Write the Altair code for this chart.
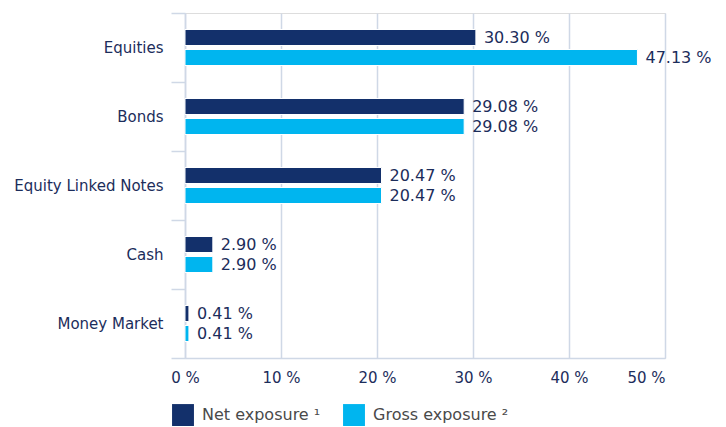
import altair as alt
import pandas as pd

categories = ["Equities", "Bonds", "Equity Linked Notes", "Cash", "Money Market"]
series = ["Net exposure ¹", "Gross exposure ²"]
net_values = [30.30, 29.08, 20.47, 2.90, 0.41]
gross_values = [47.13, 29.08, 20.47, 2.90, 0.41]
x_ticks = [0, 10, 20, 30, 40, 50]

rows = []
for c, n, g in zip(categories, net_values, gross_values):
    rows.append({"category": c, "series": series[0], "value": n})
    rows.append({"category": c, "series": series[1], "value": g})
df = pd.DataFrame(rows)

navy = "#13306b"
cyan = "#00b5ef"
text_col = "#1c2d5b"
grid_col = "#cfd8e6"
FONT = "DejaVu Sans"

y_enc = alt.Y(
    "category:N",
    sort=categories,
    scale=alt.Scale(paddingInner=0, paddingOuter=0),
    axis=alt.Axis(
        title=None,
        tickBand="extent",
        tickSize=14,
        tickColor=grid_col,
        tickWidth=1.5,
        domainColor=grid_col,
        domainWidth=1.5,
        labelPadding=8,
        labelFontSize=15,
        labelFont=FONT,
        labelColor=text_col,
        grid=False,
    ),
)
yoff_enc = alt.YOffset(
    "series:N",
    sort=series,
    scale=alt.Scale(paddingInner=0.2, paddingOuter=0.825),
)
x_enc = alt.X(
    "value:Q",
    scale=alt.Scale(domain=[0, 50], nice=False),
    axis=alt.Axis(
        title=None,
        values=x_ticks,
        labelExpr="datum.value + ' %'",
        labelAlign=alt.expr("datum.value == 50 ? 'right' : 'center'"),
        labelFlush=False,
        labelPadding=12,
        labelFontSize=15,
        labelFont=FONT,
        labelColor=text_col,
        ticks=False,
        grid=True,
        gridColor=grid_col,
        gridWidth=1.5,
        domainColor=grid_col,
        domainWidth=1.5,
    ),
)

bars = alt.Chart(df).mark_bar(stroke="white", strokeWidth=1).encode(
    x=x_enc,
    y=y_enc,
    yOffset=yoff_enc,
    color=alt.Color(
        "series:N",
        sort=series,
        scale=alt.Scale(domain=series, range=[navy, cyan]),
        legend=alt.Legend(
            title=None,
            orient="none",
            direction="horizontal",
            legendX=-13,
            legendY=391,
            symbolType="square",
            symbolSize=480,
            symbolStrokeWidth=0,
            labelFontSize=16,
            labelFont=FONT,
            labelColor="#4a4a4a",
            labelOffset=8,
            columnPadding=22,
        ),
    ),
)

labels = alt.Chart(df).transform_calculate(
    label="format(datum.value, '.2f') + ' %'"
).mark_text(align="left", baseline="middle", dx=8, fontSize=16, font=FONT, color=text_col).encode(
    x="value:Q",
    y=alt.Y("category:N", sort=categories),
    yOffset=alt.YOffset("series:N", sort=series),
    text="label:N",
)

chart = (
    alt.layer(bars, labels)
    .properties(width=480, height=345, padding={"left": 5, "top": -2, "right": 5, "bottom": 5})
    .configure_view(stroke=None)
    .configure(font=FONT)
)

chart.save("out.html", embed_options={"renderer": "svg", "actions": False})
